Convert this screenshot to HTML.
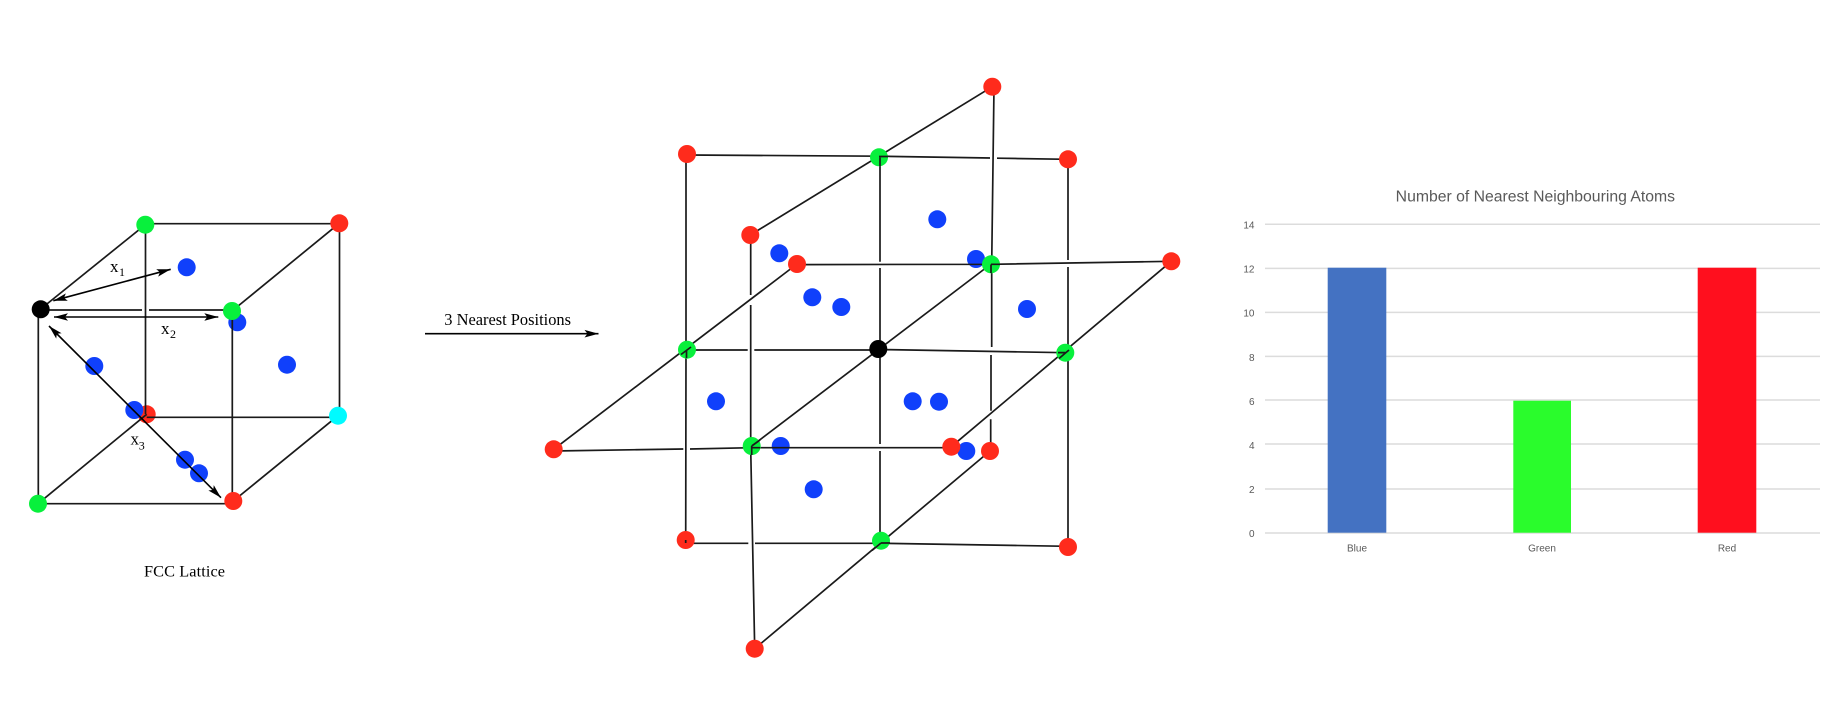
<!DOCTYPE html>
<html>
<head>
<meta charset="utf-8">
<title>FCC Lattice</title>
<style>
html,body{margin:0;padding:0;background:#fff;width:1842px;height:718px;overflow:hidden}
svg{display:block;filter:blur(0.35px)}
.l{stroke:#1a1a1a;stroke-width:1.7;fill:none}
.a{stroke:#000;stroke-width:1.6;fill:none}
.s{font-family:"Liberation Serif",serif;fill:#000}
.c{font-family:"Liberation Sans",sans-serif;fill:#595959}
.g{stroke:#dcdcdc;stroke-width:1.5}
.R{fill:#ff2b1c}.G{fill:#08f03c}.B{fill:#1040fb}.K{fill:#000}.Y{fill:#00fbff}
</style>
</head>
<body>
<svg width="1842" height="718" viewBox="0 0 1842 718" xmlns="http://www.w3.org/2000/svg">
<defs>
<marker id="h" markerUnits="userSpaceOnUse" markerWidth="15" markerHeight="10" refX="14" refY="4" orient="auto-start-reverse" viewBox="0 0 15 8">
<path d="M14 4 L0 0.2 L3 4 L0 7.8 Z" fill="#000"/>
</marker>
</defs>
<rect width="1842" height="718" fill="#fff"/>

<!-- Left lattice: blue atoms beneath lines -->
<g class="B">
<circle cx="186.7" cy="267.3" r="9"/>
<circle cx="237.3" cy="322.3" r="9"/>
<circle cx="287" cy="364.7" r="9"/>
<circle cx="94.3" cy="366" r="9"/>
<circle cx="146.7" cy="414.3" r="9" class="R"/>
<circle cx="134.3" cy="410" r="9"/>
<circle cx="185" cy="459.7" r="9"/>
<circle cx="199" cy="473.3" r="9"/>
</g>
<g class="l">
<path d="M145.3 223.7H339.3"/>
<path d="M40.7 309L145.3 224.7"/>
<path d="M339.3 223.3L232 311"/>
<path d="M339.5 223V415.7"/>
<path d="M41 310H142M149 310H232"/>
<path d="M145.5 224.7V414"/>
<path d="M38.3 309V503.7"/>
<path d="M38 503.7H233"/>
<path d="M232.3 311V501"/>
<path d="M38 503.7L146.7 414.3"/>
<path d="M233.3 501L338 415.7"/>
<path d="M146.7 417.3H338"/>
</g>
<circle cx="145.3" cy="224.7" r="9" class="G"/>
<circle cx="339.3" cy="223.3" r="9" class="R"/>
<circle cx="232" cy="311" r="9" class="G"/>
<circle cx="40.7" cy="309.3" r="9" class="K"/>
<circle cx="338" cy="415.7" r="9" class="Y"/>
<circle cx="233.3" cy="501" r="9" class="R"/>
<circle cx="38" cy="503.7" r="9" class="G"/>
<g class="a">
<path d="M53.3 300.7L170.7 269.3" marker-start="url(#h)" marker-end="url(#h)"/>
<path d="M54 317H218.3" marker-start="url(#h)" marker-end="url(#h)"/>
<path d="M49 326L221 497.7" marker-start="url(#h)" marker-end="url(#h)"/>
<path d="M425 333.7H598.5" marker-end="url(#h)"/>
</g>
<text class="s" x="110" y="272" font-size="17">x</text>
<text class="s" x="119" y="276" font-size="12">1</text>
<text class="s" x="161" y="334" font-size="17">x</text>
<text class="s" x="170" y="338" font-size="12">2</text>
<text class="s" x="130.5" y="444.5" font-size="17">x</text>
<text class="s" x="138.7" y="449.5" font-size="12">3</text>
<text class="s" x="144" y="576.5" font-size="16.3" textLength="81">FCC Lattice</text>
<text class="s" x="444.3" y="325" font-size="16.4" textLength="126.7">3 Nearest Positions</text>

<!-- Centre lattice -->
<g class="B">
<circle cx="779.3" cy="253.3" r="9"/>
<circle cx="812.3" cy="297.3" r="9"/>
<circle cx="937.3" cy="219.3" r="9"/>
<circle cx="976" cy="259" r="9"/>
<circle cx="841.3" cy="307" r="9"/>
<circle cx="1027" cy="309" r="9"/>
<circle cx="716" cy="401.3" r="9"/>
<circle cx="780.7" cy="446" r="9"/>
<circle cx="813.7" cy="489.3" r="9"/>
<circle cx="912.7" cy="401.3" r="9"/>
<circle cx="939" cy="401.7" r="9"/>
<circle cx="966.3" cy="451" r="9"/>
</g>
<g class="l">
<path d="M686 154V350L685.7 543"/>
<path d="M687 155L879 156.2L990 158M997 158.2L1068 159.3"/>
<path d="M992.3 86.7L750.3 235"/>
<path d="M880 157V261.7M880 268V349"/>
<path d="M797 264.6L991 264.3M991 264.3L1171.3 261.3"/>
<path d="M750.7 235V295M750.7 305V448L754.7 648.7"/>
<path d="M687 350H747.7M754.3 350H878.3"/>
<path d="M686 543.3H748.3M755 543.3H881L1068.3 546.3"/>
<path d="M553.7 451L683.3 449M690 449L751.7 447.7H951.3"/>
<path d="M880 349V444M880 451V541"/>
<path d="M1068 159V260M1068 267V546"/>
<path d="M994 87L991.7 264V347M991 355V410.7M990.7 419.3V451"/>
<path d="M878.3 349.5L1065.3 352.7"/>
<path d="M797 264L553.7 449.3"/>
<path d="M991 264L751.7 446"/>
<path d="M1171.3 261.3L951.3 446.7"/>
<path d="M990 451L754.7 648.7"/>
</g>
<circle cx="687" cy="154" r="9" class="R"/>
<circle cx="750.3" cy="235" r="9" class="R"/>
<circle cx="797" cy="264" r="9" class="R"/>
<circle cx="687" cy="349.7" r="9" class="G"/>
<circle cx="992.3" cy="86.7" r="9" class="R"/>
<circle cx="879" cy="157.3" r="9" class="G"/>
<circle cx="1068" cy="159.3" r="9" class="R"/>
<circle cx="991" cy="264.3" r="9" class="G"/>
<circle cx="1171.3" cy="261.3" r="9" class="R"/>
<circle cx="878.3" cy="349" r="9" class="K"/>
<circle cx="1065.3" cy="352.7" r="9" class="G"/>
<circle cx="553.7" cy="449.3" r="9" class="R"/>
<circle cx="751.7" cy="446" r="9" class="G"/>
<circle cx="685.7" cy="540" r="9" class="R"/>
<circle cx="881" cy="540.7" r="9" class="G"/>
<circle cx="754.7" cy="648.7" r="9" class="R"/>
<circle cx="1068" cy="547" r="9" class="R"/>
<circle cx="951.3" cy="446.7" r="9" class="R"/>
<circle cx="990" cy="451" r="9" class="R"/>
<!-- line ends that show on top of atoms -->
<g class="l">
<path d="M691 347L681 354.5M686.5 350V358"/>
<path d="M685.7 540V543"/>
<path d="M880 157.5V166M879 156.5H888"/>
<path d="M751.7 446V455M752 447.7H760M751.7 446L760 440"/>
<path d="M991 264.5V273M991 264.3H1000"/>
<path d="M1069 350L1059 358.5M1058 352.6H1065.3"/>
<path d="M881 543L872 550.5M881 543H890"/>
</g>

<!-- Chart -->
<text class="c" x="1395.7" y="201.5" font-size="15.4" textLength="279.3" lengthAdjust="spacingAndGlyphs">Number of Nearest Neighbouring Atoms</text>
<g class="g">
<path d="M1265 224.3H1820"/>
<path d="M1265 268.4H1820"/>
<path d="M1265 312.4H1820"/>
<path d="M1265 356.4H1820"/>
<path d="M1265 400H1820"/>
<path d="M1265 444H1820"/>
<path d="M1265 489H1820"/>
<path d="M1265 533H1820"/>
</g>
<rect x="1327.7" y="267.7" width="58.6" height="265" fill="#4472c2"/>
<rect x="1513.3" y="400.7" width="57.7" height="132" fill="#2afc2c"/>
<rect x="1697.7" y="267.7" width="58.6" height="265" fill="#ff0f1e"/>
<g class="c" font-size="10" text-anchor="end">
<text x="1254.5" y="228.5">14</text>
<text x="1254.5" y="272.5">12</text>
<text x="1254.5" y="316.5">10</text>
<text x="1254.5" y="361">8</text>
<text x="1254.5" y="405">6</text>
<text x="1254.5" y="449">4</text>
<text x="1254.5" y="493">2</text>
<text x="1254.5" y="537">0</text>
</g>
<g class="c" font-size="10" text-anchor="middle">
<text x="1357" y="551.5">Blue</text>
<text x="1542" y="551.5">Green</text>
<text x="1727" y="551.5">Red</text>
</g>
</svg>
</body>
</html>
